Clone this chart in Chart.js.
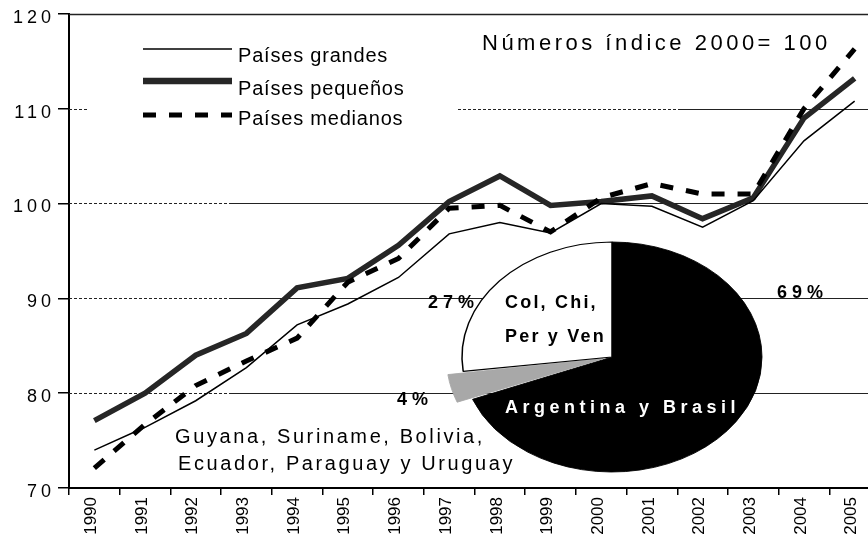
<!DOCTYPE html>
<html lang="es">
<head>
<meta charset="utf-8">
<title>Números índice 2000= 100</title>
<script src="https://cdn.jsdelivr.net/npm/chart.js@4.4.1/dist/chart.umd.min.js"></script>
<style>
  html, body { margin: 0; padding: 0; background: #fff; overflow: hidden; }
  #marco { position: relative; width: 868px; height: 542px; overflow: hidden; }
  #lineas { position: absolute; left: 0; top: 0; }
  #torta { position: absolute; left: 160px; top: 207px; }
</style>
</head>
<body>
<div id="marco">
  <canvas id="lineas" width="880" height="542"></canvas>
  <canvas id="torta" width="708" height="300"></canvas>
</div>
<script>
// datos (indice 2000 = 100)
const anios = ['1990', '1991', '1992', '1993', '1994', '1995', '1996', '1997',
  '1998', '1999', '2000', '2001', '2002', '2003', '2004', '2005'];
const paisesGrandes = [74.0, 76.4, 79.2, 82.7, 87.2, 89.4, 92.2, 96.8, 98.0, 96.9, 100.0, 99.7, 97.5, 100.3, 106.6, 110.8];
const paisesPequenos = [77.1, 80.0, 84.0, 86.3, 91.1, 92.1, 95.6, 100.2, 102.9, 99.8, 100.2, 100.8, 98.4, 100.6, 109.0, 113.2];
const paisesMedianos = [72.1, 76.7, 80.8, 83.4, 85.8, 91.7, 94.2, 99.5, 99.8, 97.0, 100.6, 102.1, 101.0, 101.0, 110.0, 116.3];
const ticksY = [70, 80, 90, 100, 110, 120];
const titulo = 'Números índice 2000= 100';

// torta: participacion por grupo de paises
const participacion = [69, 4, 27];
const grupos = [
  ['Argentina y Brasil'],
  ['Guyana, Suriname, Bolivia,', 'Ecuador, Paraguay y Uruguay'],
  ['Col, Chi,', 'Per y Ven']
];

const fuente = 'Liberation Sans, Arial, sans-serif';

// lineas de referencia: punteadas a la izquierda, continuas a la derecha
const rejilla = {
  id: 'rejilla',
  beforeDatasetsDraw(chart) {
    const { ctx, chartArea } = chart;
    const y = chart.scales.y;
    const izq = chartArea.left, der = chartArea.right;
    const tramos = {
      80: [[izq, 230, true], [230, der, false]],
      90: [[izq, 230, true], [230, der, false]],
      100: [[izq, 230, true], [230, der, false]],
      110: [[izq, 87, true], [458, 678, true], [678, der, false]],
      120: [[izq, der, false]]
    };
    ctx.save();
    ctx.strokeStyle = '#222';
    Object.keys(tramos).forEach(v => {
      const py = Math.round(y.getPixelForValue(Number(v))) + 0.5;
      tramos[v].forEach(t => {
        ctx.lineWidth = v == 120 ? 1.5 : 1;
        ctx.setLineDash(t[2] ? [3, 2] : []);
        ctx.beginPath();
        ctx.moveTo(t[0], py);
        ctx.lineTo(t[1], py);
        ctx.stroke();
      });
    });
    ctx.restore();
  }
};

// leyenda y titulo dentro del area del grafico
const leyenda = {
  id: 'leyenda',
  afterDraw(chart) {
    const ctx = chart.ctx;
    const filas = [[49, 62], [81, 95], [115, 125]];
    ctx.save();
    chart.data.datasets.forEach((ds, i) => {
      ctx.strokeStyle = ds.borderColor;
      ctx.lineWidth = ds.borderWidth + (i === 1 ? 1 : 0);
      ctx.setLineDash(ds.borderDash || []);
      ctx.beginPath();
      ctx.moveTo(143, filas[i][0]);
      ctx.lineTo(232, filas[i][0]);
      ctx.stroke();
      ctx.setLineDash([]);
      ctx.fillStyle = '#000';
      ctx.font = '20px ' + fuente;
      ctx.letterSpacing = '0.8px';
      ctx.textBaseline = 'alphabetic';
      ctx.fillText(ds.label, 238, filas[i][1]);
    });
    ctx.letterSpacing = '3.5px';
    ctx.font = '22px ' + fuente;
    ctx.fillText(titulo, 482, 50);
    ctx.restore();
  }
};

// las etiquetas del eje y van mas espaciadas
const espaciadoY = {
  id: 'espaciadoY',
  afterLayout(chart) {
    const escala = chart.scales.y;
    if (escala._conEspacio) return;
    const dibujar = escala.drawLabels;
    escala.drawLabels = function (area) {
      this.ctx.save();
      this.ctx.letterSpacing = '4px';
      dibujar.call(this, area);
      this.ctx.restore();
    };
    escala._conEspacio = true;
  }
};

new Chart(document.getElementById('lineas'), {
  type: 'line',
  data: {
    labels: anios,
    datasets: [
      { label: 'Países grandes', data: paisesGrandes, borderColor: '#000', borderWidth: 1.5, order: 0 },
      { label: 'Países pequeños', data: paisesPequenos, borderColor: '#262626', borderWidth: 5.5, order: 2 },
      { label: 'Países medianos', data: paisesMedianos, borderColor: '#000', borderWidth: 5, borderDash: [13, 13], order: 1 }
    ]
  },
  options: {
    responsive: false,
    animation: false,
    layout: { padding: { top: 13, left: 0, right: 0, bottom: 0 } },
    elements: { point: { radius: 0 }, line: { tension: 0 } },
    plugins: { legend: { display: false }, tooltip: { enabled: false } },
    scales: {
      x: {
        offset: true,
        grid: { offset: true, drawOnChartArea: false, tickLength: 7, color: '#000', lineWidth: 1.5 },
        border: { color: '#000', width: 2 },
        ticks: {
          autoSkip: false, maxRotation: 90, minRotation: 90, padding: 2, labelOffset: -3,
          color: '#000', font: { family: fuente, size: 17 }
        },
        afterFit: s => { s.height = 54; }
      },
      y: {
        min: 70,
        max: 120,
        afterBuildTicks: s => { s.ticks = ticksY.map(v => ({ value: v })); },
        grid: { drawOnChartArea: false, tickLength: 11, color: '#000', lineWidth: 1.5 },
        border: { color: '#000', width: 2 },
        ticks: { padding: 3, labelOffset: 4, color: '#000', font: { family: fuente, size: 18 } },
        afterFit: s => { s.width = 69; }
      }
    }
  },
  plugins: [rejilla, leyenda, espaciadoY]
});

// torta aplastada (elipse) con sus rotulos
const aplastar = {
  id: 'aplastar',
  beforeDatasetsDraw(chart) {
    const a = chart.chartArea;
    const cx = (a.left + a.right) / 2, cy = (a.top + a.bottom) / 2;
    chart.ctx.save();
    chart.ctx.translate(cx, cy);
    chart.ctx.scale(1, 115 / 150);
    chart.ctx.translate(-cx, -cy);
  },
  afterDatasetsDraw(chart) {
    chart.ctx.restore();
  },
  afterDraw(chart) {
    const ctx = chart.ctx;
    const datos = chart.data.datasets[0].data;
    const total = datos.reduce((s, v) => s + v, 0);
    const pos = [
      { nombre: [345, 206], pct: [617, 91], fuente: 'bold 18px ', color: '#fff', esp: '4.5px', alto: 34 },
      { nombre: [15, 236], pct: [237, 198], fuente: '20px ', color: '#000', esp: '2.6px', alto: 27 },
      { nombre: [345, 101], pct: [268, 101], fuente: 'bold 18px ', color: '#000', esp: '2.2px', alto: 34 }
    ];
    ctx.save();
    ctx.textBaseline = 'alphabetic';
    chart.data.labels.forEach((lineasTexto, i) => {
      const p = pos[i];
      ctx.font = p.fuente + fuente;
      ctx.fillStyle = p.color;
      ctx.letterSpacing = p.esp;
      lineasTexto.forEach((t, k) => {
        ctx.fillText(t, p.nombre[0] + (i === 1 ? k * 3 : 0), p.nombre[1] + k * p.alto);
      });
      ctx.font = 'bold 18px ' + fuente;
      ctx.fillStyle = '#000';
      ctx.letterSpacing = '5px';
      ctx.fillText(Math.round(datos[i] / total * 100) + '%', p.pct[0], p.pct[1]);
    });
    ctx.restore();
  }
};

new Chart(document.getElementById('torta'), {
  type: 'pie',
  data: {
    labels: grupos,
    datasets: [{
      data: participacion,
      backgroundColor: ['#000', '#a8a8a8', '#fff'],
      borderColor: ['#000', '#a8a8a8', '#000'],
      borderWidth: [1, 1, 1.5],
      offset: [0, 36, 0],
      clip: false
    }]
  },
  options: {
    responsive: false,
    animation: false,
    radius: 150,
    layout: { padding: { left: 196 } },
    plugins: { legend: { display: false }, tooltip: { enabled: false } }
  },
  plugins: [aplastar]
});
</script>
</body>
</html>
